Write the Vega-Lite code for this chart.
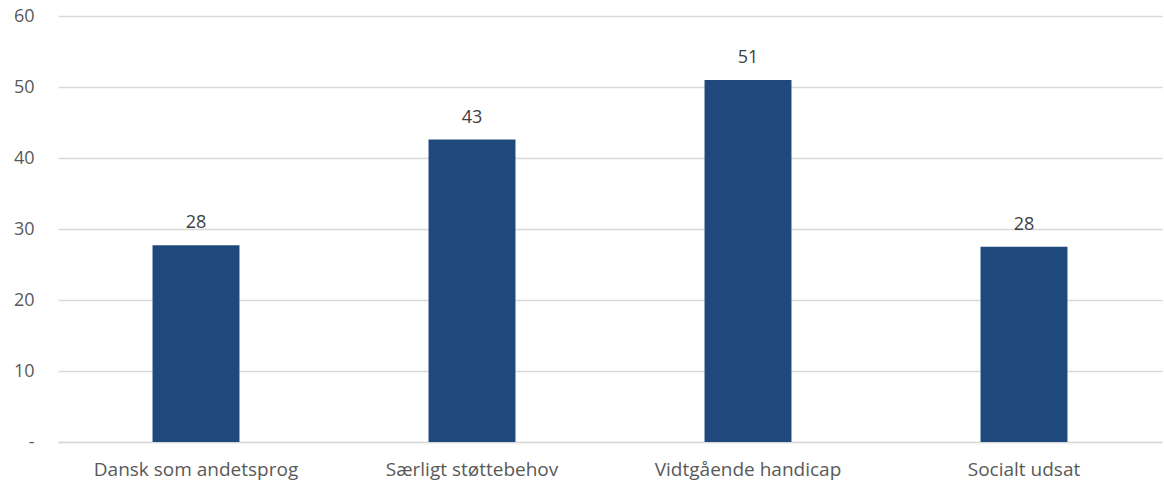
{
  "$schema": "https://vega.github.io/schema/vega-lite/v6.json",
  "autosize": "none",
  "width": 1104,
  "height": 426,
  "padding": {"left": 58, "top": 16, "right": 2, "bottom": 39},
  "background": "white",
  "config": {
    "view": {"stroke": null},
    "font": "Open Sans",
    "axis": {"labelFont": "Open Sans", "labelColor": "#595959", "labelFontSize": 18}
  },
  "data": {
    "values": [
      {"kategori": "Dansk som andetsprog", "værdi": 27.7},
      {"kategori": "Særligt støttebehov", "værdi": 42.6},
      {"kategori": "Vidtgående handicap", "værdi": 51.0},
      {"kategori": "Socialt udsat", "værdi": 27.5}
    ]
  },
  "encoding": {
    "x": {
      "field": "kategori",
      "type": "nominal",
      "sort": null,
      "scale": {"paddingInner": 0.685, "paddingOuter": 0.3425},
      "axis": {"title": null, "labelAngle": 0, "ticks": false, "domain": true, "domainColor": "#d9d9d9", "domainWidth": 1.5, "labelPadding": 18, "grid": false, "labelOverlap": false, "labelLimit": 400, "labelFontSize": 19}
    },
    "y": {
      "field": "værdi",
      "type": "quantitative",
      "scale": {"domain": [0, 60], "nice": false},
      "axis": {"title": null, "values": [0, 10, 20, 30, 40, 50, 60], "ticks": false, "domain": false, "gridColor": "#d9d9d9", "gridWidth": 1.5, "labelPadding": 24, "labelOverlap": false, "labelExpr": "datum.value == 0 ? '-' : datum.label"}
    }
  },
  "layer": [
    {"mark": {"type": "bar", "color": "#1f497d"}},
    {
      "mark": {"type": "text", "dy": -13, "baseline": "bottom", "fontSize": 18, "color": "#404040", "font": "Open Sans"},
      "encoding": {"text": {"field": "værdi", "type": "quantitative", "format": ".0f"}}
    }
  ]
}
